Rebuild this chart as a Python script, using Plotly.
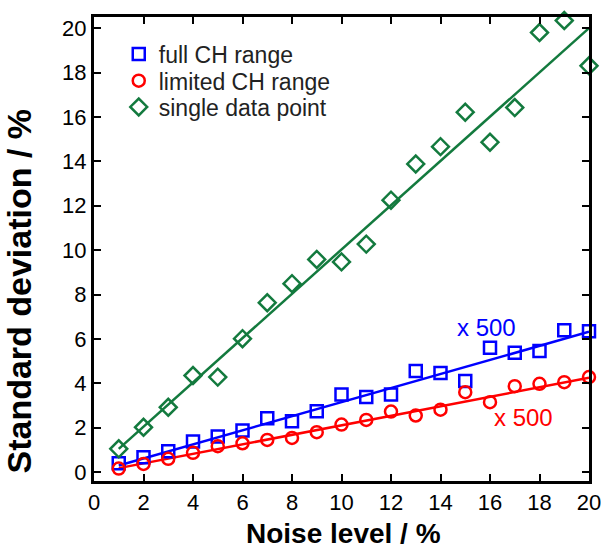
import plotly.graph_objects as go

noise = list(range(1, 21))
full_ch = [0.40, 0.67, 0.94, 1.38, 1.60, 1.87, 2.43, 2.29, 2.74, 3.50,
           3.38, 3.50, 4.55, 4.46, 4.10, 5.60, 5.38, 5.45, 6.39, 6.34]
limited_ch = [0.16, 0.37, 0.60, 0.87, 1.17, 1.30, 1.45, 1.54, 1.80, 2.14,
              2.35, 2.73, 2.55, 2.81, 3.60, 3.15, 3.87, 3.98, 4.05, 4.28]
single_pt = [1.05, 2.02, 2.92, 4.35, 4.28, 6.01, 7.63, 8.49, 9.58, 9.47,
             10.27, 12.25, 13.88, 14.66, 16.21, 14.86, 16.42, 19.80, 20.34, 18.30]

fit_x = [1, 20]
full_fit = [0.30, 6.32]
limited_fit = [0.18, 4.25]
single_fit = [1.05, 20.0]

names = ["full CH range", "limited CH range", "single data point"]
BLUE, RED, GREEN = "#0000FF", "#FF0000", "#137A3E"
FONT = "Liberation Sans, Arial, sans-serif"

fig = go.Figure()
for yfit, col in [(full_fit, BLUE), (limited_fit, RED), (single_fit, GREEN)]:
    fig.add_trace(go.Scatter(x=fit_x, y=yfit, mode="lines", showlegend=False,
                             line=dict(color=col, width=2.5), cliponaxis=False))

legend_ids = ["legend", "legend2", "legend3"]
for ys, col, sym, sz, nm, lg in [(full_ch, BLUE, "square-open", 12, names[0], legend_ids[0]),
                                 (limited_ch, RED, "circle-open", 12, names[1], legend_ids[1]),
                                 (single_pt, GREEN, "diamond-open", 13, names[2], legend_ids[2])]:
    fig.add_trace(go.Scatter(x=noise, y=ys, mode="markers", name=nm, cliponaxis=False,
                             legend=lg,
                             marker=dict(symbol=sym, size=sz, color=col,
                                         line=dict(color=col, width=2.5))))

axis_common = dict(showline=True, linecolor="black", linewidth=3, mirror="allticks",
                   ticks="inside", ticklen=7, tickwidth=2, tickcolor="black",
                   showgrid=False, zeroline=False,
                   tickfont=dict(family=FONT, size=22, color="black"))

fig.update_xaxes(range=[0, 20], tickmode="linear", tick0=0, dtick=2, **axis_common)
fig.update_yaxes(range=[-0.4, 20.5], tickmode="linear", tick0=0, dtick=2, **axis_common)

fig.add_annotation(text="x 500", x=15.85, y=6.53, xref="x", yref="y", showarrow=False,
                   font=dict(family=FONT, size=24, color=BLUE))
fig.add_annotation(text="x 500", x=17.35, y=2.47, xref="x", yref="y", showarrow=False,
                   font=dict(family=FONT, size=24, color=RED))

# axis titles
fig.add_annotation(text="<b>Noise level / %</b>", x=0.505, y=-0.1487, xref="paper", yref="paper",
                   showarrow=False, yanchor="bottom", borderpad=0,
                   font=dict(family=FONT, size=28, color="black"))
fig.add_annotation(text="<b>Standard deviation / %</b>", x=-0.152, y=0.41, xref="paper",
                   yref="paper", showarrow=False, textangle=-90, xanchor="center",
                   font=dict(family=FONT, size=34, color="black"))

H = 464.0
row_px = [54, 80.7, 107]
leg_common = dict(x=0.05, xanchor="left", yanchor="middle",
                  font=dict(family=FONT, size=23, color="#222222"),
                  bgcolor="rgba(0,0,0,0)")
fig.update_layout(
    width=613, height=547,
    margin=dict(l=94, r=15, t=17, b=66),
    plot_bgcolor="white", paper_bgcolor="white",
    legend=dict(y=(481 - row_px[0]) / H, **leg_common),
    legend2=dict(y=(481 - row_px[1]) / H, **leg_common),
    legend3=dict(y=(481 - row_px[2]) / H, **leg_common),
)

fig.write_html("out.html")
